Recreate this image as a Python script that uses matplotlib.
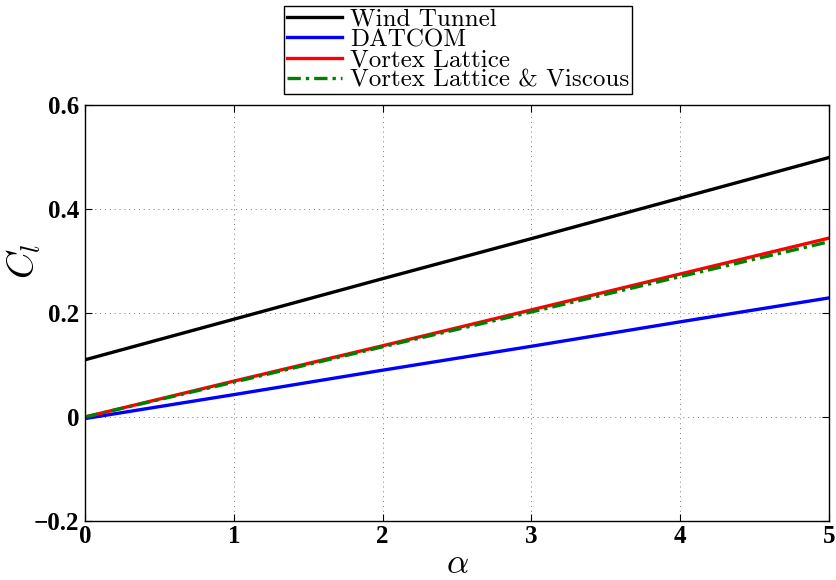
import numpy as np
import matplotlib.pyplot as plt

plt.rcParams['mathtext.fontset'] = 'cm'
plt.rcParams['font.family'] = ['Liberation Serif', 'DejaVu Serif']

# angle of attack and lift coefficient
alpha = [0, 1, 2, 3, 4, 5]
cl_wind = [0.110, 0.188, 0.266, 0.343, 0.421, 0.499]
cl_datcom = [-0.003, 0.043, 0.090, 0.136, 0.183, 0.229]
cl_vl = [0.000, 0.069, 0.137, 0.206, 0.275, 0.344]
cl_vlv = [0.000, 0.067, 0.135, 0.202, 0.270, 0.337]
labels = ['Wind Tunnel', 'DATCOM', 'Vortex Lattice', 'Vortex Lattice & Viscous']
xticks = [0, 1, 2, 3, 4, 5]
yticks = [-0.2, 0, 0.2, 0.4, 0.6]
ytick_labels = ['\u22120.2', '0', '0.2', '0.4', '0.6']

fig = plt.figure(figsize=(8.36, 5.8), dpi=100)
ax = fig.add_axes([0.1017, 0.1017, 0.8899, 0.7173])

ax.plot(alpha, cl_wind, color='black', lw=2.4, label=labels[0])
ax.plot(alpha, cl_datcom, color='blue', lw=2.4, label=labels[1])
ax.plot(alpha, cl_vl, color='red', lw=2.4, label=labels[2])
ax.plot(alpha, cl_vlv, color='green', lw=2.4, ls=(0, (4, 1.5, 1, 1.5)), label=labels[3])

ax.set_xlim(0, 5)
ax.set_ylim(-0.2, 0.6)
ax.set_xticks(xticks)
ax.set_yticks(yticks)
ax.set_yticklabels(ytick_labels)
for lab in ax.get_xticklabels() + ax.get_yticklabels():
    lab.set_fontweight('bold')
    lab.set_fontsize(18)
ax.tick_params(direction='in', length=5, width=0.8, top=True, right=True, pad=4)
ax.tick_params(axis='x', pad=3)
ax.grid(True, color='#777777', ls=(0, (1, 4)), lw=0.7)
for s in ax.spines.values():
    s.set_linewidth(1.0)

ax.set_xlabel(r'$\alpha$', fontsize=25, labelpad=0)
ax.set_ylabel(r'$C_l$', fontsize=27)
ax.yaxis.set_label_coords(-0.056, 0.625)

leg = fig.legend(loc='upper center', bbox_to_anchor=(0.548, 0.99),
                 prop={'family': 'cmr10', 'size': 18},
                 frameon=True, fancybox=False, edgecolor='black', framealpha=1,
                 borderpad=0.1, labelspacing=-0.09, handlelength=2.2,
                 handletextpad=0.35, borderaxespad=0)
leg.get_frame().set_linewidth(1.0)

fig.savefig('out.png', dpi=100)
